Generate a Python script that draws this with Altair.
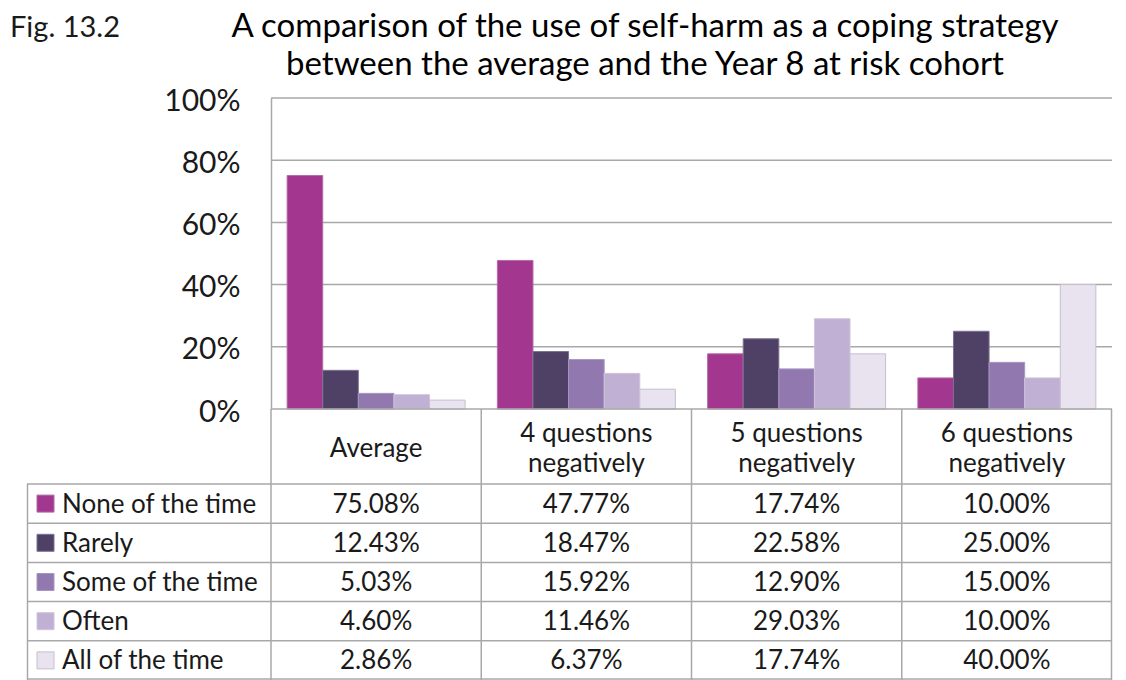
import altair as alt
import pandas as pd

# ---- data -------------------------------------------------------------
groups = [
    "Average",
    "4 questions\nnegatively",
    "5 questions\nnegatively",
    "6 questions\nnegatively",
]
series = ["None of the time", "Rarely", "Some of the time", "Often", "All of the time"]

none_of_the_time = [0.7508, 0.4777, 0.1774, 0.1000]
rarely = [0.1243, 0.1847, 0.2258, 0.2500]
some_of_the_time = [0.0503, 0.1592, 0.1290, 0.1500]
often = [0.0460, 0.1146, 0.2903, 0.1000]
all_of_the_time = [0.0286, 0.0637, 0.1774, 0.4000]

y_ticks = [0.0, 0.2, 0.4, 0.6, 0.8, 1.0]

title_text = (
    "A comparison of the use of self-harm as a coping strategy\n"
    "between the average and the Year 8 at risk cohort"
)
fig_label = "Fig. 13.2"

# ---- styling ----------------------------------------------------------
fills = ["#A3368E", "#4F4066", "#9179B0", "#C0B0D4", "#E8E3EF"]
edges = ["#B26BA6", "#7D7290", "#A797C0", "#CFC4DC", "#C6BFCE"]
LINE = "#A8A8A8"
INK = "#1a1a1a"
FONT = "Lato"
TABLE_FS = 26
HEADER_LH = 30

# ---- layout (pixels inside the drawing area) ---------------------------
W, H = 1085, 582          # whole drawing area: bars + data table
LEGEND_W = 244            # width of the row-label column
PLOT_H = 311              # height of the bar panel
HEADER_H = 75             # table header row
ROW_H = (H - PLOT_H - HEADER_H) / len(series)
COL_W = (W - LEGEND_W) / len(groups)

values = [none_of_the_time, rarely, some_of_the_time, often, all_of_the_time]
long = pd.DataFrame(
    [
        {"group": g, "series": s, "value": vals[i]}
        for s, vals in zip(series, values)
        for i, g in enumerate(groups)
    ]
)

pct_scale = alt.Scale(domain=[0, 1], range=[PLOT_H, 0], nice=False)
x_scale = alt.Scale(
    domain=groups, range=[LEGEND_W, W], paddingInner=0.1534, paddingOuter=0.0767
)
row_scale = alt.Scale(
    domain=series, range=[PLOT_H + HEADER_H, H], paddingInner=0, paddingOuter=0
)
color_scale = alt.Scale(domain=series, range=fills)
edge_scale = alt.Scale(domain=series, range=edges)

# horizontal gridlines of the bar panel
grid = (
    alt.Chart(pd.DataFrame({"v": y_ticks[1:]}))
    .mark_rule(color=LINE, strokeWidth=1.5)
    .encode(
        y=alt.Y("v:Q", scale=pct_scale, axis=None),
        x=alt.value(LEGEND_W),
        x2=alt.value(W),
    )
)

# grouped bars
bars = (
    alt.Chart(long)
    .mark_bar(strokeWidth=1)
    .encode(
        x=alt.X("group:N", sort=groups, scale=x_scale, axis=None),
        xOffset=alt.XOffset(
            "series:N",
            sort=series,
            scale=alt.Scale(domain=series, paddingInner=0, paddingOuter=0),
        ),
        y=alt.Y(
            "value:Q",
            scale=pct_scale,
            axis=alt.Axis(
                values=y_ticks,
                format=".0%",
                offset=-LEGEND_W,
                grid=False,
                ticks=False,
                domain=True,
                domainColor=LINE,
                domainWidth=1.5,
                labelFont=FONT,
                labelFontSize=30,
                labelColor=INK,
                labelPadding=31,
                labelOffset=3,
                title=None,
            ),
        ),
        color=alt.Color("series:N", scale=color_scale, legend=None),
        stroke=alt.Stroke("series:N", scale=edge_scale, legend=None),
    )
)

# table frame lines
col_edges = [LEGEND_W + COL_W * i for i in range(1, len(groups))]
row_edges = [PLOT_H + HEADER_H + ROW_H * i for i in range(len(series))]
frame_rows = [{"x": LEGEND_W, "x2": W, "y": PLOT_H, "y2": PLOT_H}]
for ry in row_edges:
    frame_rows.append({"x": 0, "x2": W, "y": ry, "y2": ry})
frame_rows.append({"x": 0, "x2": W, "y": H - 1, "y2": H - 1})
frame_rows.append({"x": 0.5, "x2": 0.5, "y": PLOT_H + HEADER_H, "y2": H})
frame_rows.append({"x": LEGEND_W, "x2": LEGEND_W, "y": PLOT_H, "y2": H})
for cx in col_edges:
    frame_rows.append({"x": cx, "x2": cx, "y": PLOT_H, "y2": H})
frame_rows.append({"x": W - 0.5, "x2": W - 0.5, "y": PLOT_H, "y2": H})

frame = (
    alt.Chart(pd.DataFrame(frame_rows))
    .mark_rule(color=LINE, strokeWidth=1.5)
    .encode(
        x=alt.X("x:Q", scale=None),
        x2="x2:Q",
        y=alt.Y("y:Q", scale=None),
        y2="y2:Q",
    )
)

# column headers, each block centred vertically in the header row
header_mid = PLOT_H + HEADER_H / 2 + 2
header = (
    alt.Chart(pd.DataFrame({"group": groups}))
    .transform_calculate(
        ypx=f"{header_mid} - (length(split(datum.group, '\\n')) - 1) * {HEADER_LH / 2}"
    )
    .mark_text(
        font=FONT, fontSize=TABLE_FS, color=INK, lineBreak="\n",
        lineHeight=HEADER_LH, baseline="middle",
    )
    .encode(
        x=alt.X("group:N", sort=groups, scale=x_scale, axis=None),
        y=alt.Y("ypx:Q", scale=None),
        text="group:N",
    )
)

# table values
cells = (
    alt.Chart(long)
    .mark_text(font=FONT, fontSize=TABLE_FS, color=INK, baseline="middle", dy=1)
    .encode(
        x=alt.X("group:N", sort=groups, scale=x_scale, axis=None),
        y=alt.Y("series:N", sort=series, scale=row_scale, axis=None),
        text=alt.Text("value:Q", format=".2%"),
    )
)

# row legend: swatch + name
legend_df = pd.DataFrame({"series": series})
swatches = (
    alt.Chart(legend_df)
    .mark_square(size=289, opacity=1, strokeWidth=1)
    .encode(
        x=alt.value(18.5),
        y=alt.Y("series:N", sort=series, scale=row_scale, axis=None),
        color=alt.Color("series:N", scale=color_scale, legend=None),
        stroke=alt.Stroke("series:N", scale=edge_scale, legend=None),
    )
)
names = (
    alt.Chart(legend_df)
    .mark_text(font=FONT, fontSize=TABLE_FS, color=INK, align="left",
               baseline="middle", dy=1)
    .encode(
        x=alt.value(35),
        y=alt.Y("series:N", sort=series, scale=row_scale, axis=None),
        text="series:N",
    )
)

# figure number and two-line heading above the panel
fig = (
    alt.Chart(pd.DataFrame({"t": [fig_label]}))
    .mark_text(font=FONT, fontSize=29, color=INK, align="left",
               baseline="alphabetic")
    .encode(x=alt.value(-17), y=alt.value(-61), text="t:N")
)
heading = (
    alt.Chart(pd.DataFrame({"t": [title_text]}))
    .mark_text(font=FONT, fontSize=33, color="#000000", align="center",
               baseline="alphabetic", lineBreak="\n", lineHeight=38)
    .encode(x=alt.value(618), y=alt.value(-61), text="t:N")
)

chart = (
    alt.layer(grid, bars, frame, header, cells, swatches, names, fig, heading)
    .resolve_scale(y="independent")
    .properties(
        width=W,
        height=H,
        autosize=alt.AutoSizeParams(type="none"),
        padding={"left": 27, "top": 98, "right": 14, "bottom": 0},
    )
    .configure(background="white")
    .configure_view(stroke=None)
)

chart.save("out.html", embed_options={"renderer": "svg", "actions": False})
